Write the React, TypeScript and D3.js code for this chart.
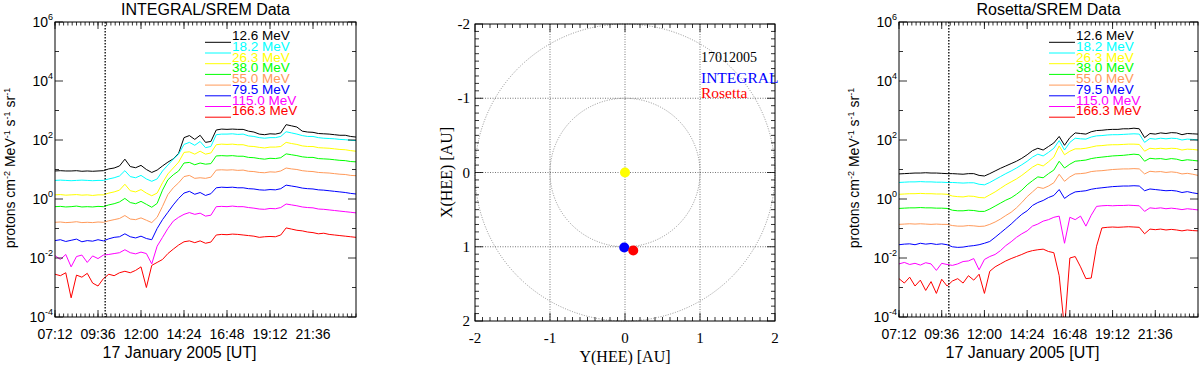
import * as d3 from 'd3';

// Time grid (decimal hours UT, 17 Jan 2005)
const hours = [
    7.2, 7.5, 7.8, 8.1, 8.4, 8.7, 9.0, 9.3, 9.6, 9.9,
    10.2, 10.5, 10.8, 11.1, 11.4, 11.7, 12.0, 12.3, 12.6, 12.9,
    13.2, 13.5, 13.8, 14.1, 14.4, 14.7, 15.0, 15.3, 15.6, 15.9,
    16.2, 16.5, 16.8, 17.1, 17.4, 17.7, 18.0, 18.3, 18.6, 18.9,
    19.2, 19.5, 19.8, 20.1, 20.4, 20.7, 21.0, 21.3, 21.6, 21.9,
    22.2, 22.5, 22.8, 23.1, 23.4, 23.7, 24.0,
];

const channels = ['12.6 MeV', '18.2 MeV', '26.3 MeV', '38.0 MeV', '55.0 MeV', '79.5 MeV', '115.0 MeV', '166.3 MeV'];
const channelColors = ['#000000', '#00ffff', '#ffff00', '#00ff00', '#ff9a5a', '#0000ff', '#ff00ff', '#ff0000'];

const timeTickLabels = ['07:12', '09:36', '12:00', '14:24', '16:48', '19:12', '21:36'];
const timeTickHours = [7.2, 9.6, 12.0, 14.4, 16.8, 19.2, 21.6];
const eventHour = 10.0;

// log10 of proton flux, INTEGRAL/SREM
const integral126 = [
    0.95, 0.96, 0.95, 0.95, 0.96, 0.94, 0.95, 0.94, 0.95, 0.96,
    1.02, 1.05, 1.12, 1.35, 1.10, 1.06, 1.14, 1.00, 0.90, 0.98,
    1.12, 1.25, 1.36, 1.55, 2.08, 2.15, 2.02, 2.16, 1.92, 1.95,
    2.34, 2.37, 2.36, 2.37, 2.36, 2.36, 2.30, 2.27, 2.20, 2.18,
    2.21, 2.20, 2.24, 2.52, 2.48, 2.44, 2.30, 2.27, 2.26, 2.22,
    2.21, 2.20, 2.18, 2.16, 2.16, 2.12, 2.10,
];
const integral182 = [
    0.63, 0.64, 0.63, 0.62, 0.63, 0.64, 0.63, 0.62, 0.63, 0.63,
    0.68, 0.72, 0.78, 0.96, 0.76, 0.72, 0.80, 0.68, 0.60, 0.68,
    0.95, 1.15, 1.35, 1.52, 1.85, 1.92, 1.82, 1.95, 1.74, 1.78,
    2.18, 2.20, 2.20, 2.21, 2.19, 2.20, 2.14, 2.12, 2.08, 2.06,
    2.08, 2.08, 2.12, 2.28, 2.24, 2.20, 2.15, 2.12, 2.12, 2.08,
    2.06, 2.05, 2.04, 2.02, 2.01, 1.99, 1.98,
];
const integral263 = [
    0.14, 0.15, 0.13, 0.14, 0.15, 0.13, 0.14, 0.12, 0.14, 0.14,
    0.20, 0.24, 0.30, 0.50, 0.28, 0.24, 0.32, 0.20, 0.11, 0.20,
    0.55, 0.85, 1.05, 1.25, 1.58, 1.60, 1.52, 1.62, 1.52, 1.56,
    1.84, 1.86, 1.85, 1.86, 1.84, 1.84, 1.79, 1.78, 1.75, 1.73,
    1.76, 1.76, 1.78, 1.92, 1.88, 1.85, 1.80, 1.78, 1.78, 1.74,
    1.73, 1.72, 1.70, 1.68, 1.67, 1.64, 1.62,
];
const integral380 = [
    -0.26, -0.25, -0.27, -0.26, -0.24, -0.27, -0.26, -0.27, -0.25, -0.26,
    -0.20, -0.16, -0.10, 0.02, -0.12, -0.16, -0.08, -0.18, -0.28, -0.15,
    0.30, 0.65, 0.82, 0.95, 1.22, 1.24, 1.16, 1.22, 1.18, 1.20,
    1.46, 1.47, 1.46, 1.47, 1.45, 1.45, 1.41, 1.40, 1.37, 1.35,
    1.38, 1.37, 1.40, 1.53, 1.50, 1.47, 1.43, 1.41, 1.41, 1.37,
    1.36, 1.35, 1.33, 1.31, 1.30, 1.27, 1.26,
];
const integral550 = [
    -0.79, -0.78, -0.80, -0.79, -0.77, -0.80, -0.79, -0.80, -0.78, -0.79,
    -0.74, -0.70, -0.66, -0.56, -0.68, -0.70, -0.64, -0.72, -0.80, -0.62,
    -0.25, 0.15, 0.38, 0.55, 0.76, 0.80, 0.70, 0.72, 0.70, 0.74,
    0.98, 0.99, 0.98, 0.99, 0.97, 0.98, 0.94, 0.93, 0.90, 0.89,
    0.92, 0.91, 0.95, 1.05, 1.02, 1.00, 0.96, 0.94, 0.93, 0.90,
    0.89, 0.88, 0.86, 0.84, 0.83, 0.80, 0.79,
];
const integral795 = [
    -1.41, -1.38, -1.44, -1.40, -1.36, -1.45, -1.41, -1.43, -1.38, -1.42,
    -1.35, -1.30, -1.28, -1.18, -1.28, -1.32, -1.26, -1.34, -1.38, -1.00,
    -0.70, -0.45, -0.20, 0.02, 0.20, 0.26, 0.16, 0.22, 0.12, 0.18,
    0.38, 0.40, 0.39, 0.40, 0.38, 0.38, 0.35, 0.34, 0.31, 0.30,
    0.32, 0.31, 0.35, 0.47, 0.44, 0.41, 0.37, 0.35, 0.34, 0.31,
    0.30, 0.28, 0.26, 0.24, 0.22, 0.19, 0.17,
];
const integral1150 = [
    -1.92, -2.05, -1.88, -2.30, -1.95, -1.90, -2.15, -1.93, -2.02, -1.90,
    -1.88, -1.85, -1.82, -1.72, -1.82, -1.86, -1.80, -1.85, -2.20, -1.60,
    -1.30, -1.00, -0.75, -0.62, -0.52, -0.46, -0.52, -0.48, -0.58, -0.55,
    -0.26, -0.25, -0.26, -0.24, -0.26, -0.26, -0.29, -0.31, -0.34, -0.35,
    -0.32, -0.33, -0.29, -0.17, -0.20, -0.23, -0.27, -0.29, -0.30, -0.34,
    -0.35, -0.37, -0.39, -0.41, -0.43, -0.45, -0.47,
];
const integral1663 = [
    -2.55, -2.60, -2.50, -3.35, -2.58, -2.65, -2.52, -2.85, -2.95, -2.70,
    -2.55, -2.60, -2.50, -2.45, -2.50, -2.42, -2.30, -3.00, -2.25, -2.15,
    -2.05, -1.85, -1.70, -1.56, -1.45, -1.42, -1.48, -1.42, -1.50, -1.46,
    -1.22, -1.20, -1.21, -1.19, -1.20, -1.22, -1.24, -1.26, -1.30, -1.28,
    -1.27, -1.28, -1.22, -0.98, -1.02, -1.06, -1.08, -1.12, -1.14, -1.18,
    -1.16, -1.20, -1.22, -1.24, -1.26, -1.28, -1.30,
];

// log10 of proton flux, Rosetta/SREM
const rosetta126 = [
    0.85, 0.86, 0.87, 0.88, 0.88, 0.89, 0.88, 0.88, 0.87, 0.86,
    0.86, 0.85, 0.84, 0.86, 0.86, 0.80, 0.78, 0.86, 0.95, 1.04,
    1.12, 1.20, 1.28, 1.38, 1.50, 1.64, 1.72, 1.66, 1.78, 1.90,
    2.12, 1.82, 2.08, 2.24, 2.22, 2.20, 2.28, 2.32, 2.33, 2.35,
    2.36, 2.36, 2.38, 2.38, 2.40, 2.38, 2.08, 2.22, 2.20, 2.24,
    2.22, 2.25, 2.24, 2.18, 2.22, 2.21, 2.20,
];
const rosetta182 = [
    0.56, 0.57, 0.58, 0.58, 0.59, 0.58, 0.58, 0.57, 0.57, 0.56,
    0.56, 0.55, 0.54, 0.55, 0.55, 0.50, 0.48, 0.56, 0.66, 0.76,
    0.86, 0.95, 1.05, 1.16, 1.28, 1.42, 1.52, 1.46, 1.58, 1.72,
    1.98, 1.66, 1.92, 2.06, 2.04, 2.03, 2.10, 2.14, 2.15, 2.17,
    2.18, 2.18, 2.19, 2.20, 2.21, 2.20, 1.92, 2.05, 2.03, 2.06,
    2.04, 2.06, 2.05, 2.00, 2.03, 2.02, 2.00,
];
const rosetta263 = [
    0.16, 0.17, 0.18, 0.18, 0.19, 0.18, 0.18, 0.17, 0.17, 0.16,
    0.10, 0.08, 0.07, 0.10, 0.09, 0.05, 0.04, 0.14, 0.24, 0.36,
    0.48, 0.58, 0.68, 0.80, 0.94, 1.08, 1.18, 1.12, 1.26, 1.42,
    1.80, 1.50, 1.62, 1.70, 1.70, 1.72, 1.76, 1.80, 1.81, 1.83,
    1.84, 1.84, 1.85, 1.86, 1.86, 1.85, 1.62, 1.72, 1.70, 1.72,
    1.70, 1.72, 1.71, 1.66, 1.69, 1.68, 1.66,
];
const rosetta380 = [
    -0.32, -0.31, -0.30, -0.30, -0.29, -0.30, -0.30, -0.31, -0.31, -0.32,
    -0.38, -0.40, -0.40, -0.38, -0.39, -0.42, -0.42, -0.34, -0.24, -0.14,
    -0.04, 0.04, 0.16, 0.30, 0.48, 0.62, 0.75, 0.72, 0.86, 0.98,
    1.28, 1.05, 1.18, 1.28, 1.30, 1.32, 1.37, 1.40, 1.42, 1.44,
    1.46, 1.47, 1.48, 1.50, 1.52, 1.50, 1.28, 1.38, 1.36, 1.37,
    1.34, 1.37, 1.35, 1.30, 1.33, 1.31, 1.29,
];
const rosetta550 = [
    -0.86, -0.85, -0.84, -0.85, -0.84, -0.85, -0.86, -0.85, -0.86, -0.86,
    -0.90, -0.92, -0.92, -0.90, -0.91, -0.93, -0.92, -0.86, -0.78, -0.68,
    -0.56, -0.45, -0.30, -0.12, 0.08, 0.24, 0.40, 0.36, 0.44, 0.55,
    0.84, 0.60, 0.75, 0.85, 0.86, 0.88, 0.93, 0.95, 0.96, 0.98,
    1.00, 1.01, 1.02, 1.02, 1.03, 1.02, 0.85, 0.94, 0.92, 0.93,
    0.90, 0.92, 0.90, 0.85, 0.87, 0.84, 0.80,
];
const rosetta795 = [
    -1.55, -1.53, -1.52, -1.55, -1.50, -1.53, -1.51, -1.54, -1.52, -1.55,
    -1.62, -1.64, -1.63, -1.60, -1.58, -1.55, -1.50, -1.44, -1.30, -1.15,
    -1.00, -0.85, -0.68, -0.52, -0.40, -0.22, -0.12, -0.05, 0.05, 0.12,
    0.32, 0.02, 0.15, 0.24, 0.26, 0.28, 0.33, 0.36, 0.38, 0.40,
    0.42, 0.43, 0.44, 0.44, 0.45, 0.44, 0.28, 0.34, 0.32, 0.30,
    0.28, 0.29, 0.27, 0.22, 0.25, 0.21, 0.18,
];
const rosetta1150 = [
    -2.20, -2.15, -2.22, -2.18, -2.24, -2.16, -2.20, -2.42, -2.18, -2.22,
    -2.25, -2.20, -2.12, -2.10, -2.02, -2.40, -2.05, -1.95, -1.88, -1.75,
    -1.58, -1.45, -1.30, -1.18, -1.08, -0.92, -0.85, -0.75, -0.70, -0.62,
    -0.58, -1.50, -0.62, -0.70, -0.58, -0.92, -0.55, -0.25, -0.23, -0.22,
    -0.23, -0.22, -0.22, -0.21, -0.22, -0.23, -0.42, -0.30, -0.32, -0.30,
    -0.33, -0.31, -0.33, -0.36, -0.33, -0.35, -0.37,
];
const rosetta1663 = [
    -2.70, -2.85, -2.65, -2.95, -2.75, -3.10, -2.80, -3.20, -2.72, -2.95,
    -2.78, -2.70, -2.85, -2.60, -2.75, -2.55, -3.20, -2.45, -2.30, -2.20,
    -2.10, -2.02, -1.95, -1.88, -1.80, -1.75, -1.72, -1.70, -1.78, -1.82,
    -2.60, -4.40, -2.00, -1.95, -2.30, -2.70, -2.68, -1.60, -0.98, -0.96,
    -0.95, -0.96, -0.95, -0.94, -0.95, -0.96, -1.18, -1.02, -1.04, -1.02,
    -1.05, -1.03, -1.05, -1.08, -1.05, -1.07, -1.08,
];

const integralSeries = [integral126, integral182, integral263, integral380, integral550, integral795, integral1150, integral1663];
const rosettaSeries = [rosetta126, rosetta182, rosetta263, rosetta380, rosetta550, rosetta795, rosetta1150, rosetta1663];

// Orbit panel (HEE coordinates in AU)
const orbitRadii = [1, 2];
const gridValues = [-1, 0, 1];
const axisValues = [-2, -1, 0, 1, 2];
const bodies = [
    { name: 'Sun', yHee: 0, xHee: 0, color: '#ffff00' },
    { name: 'INTEGRAL', yHee: -0.01, xHee: 1.01, color: '#0000ff' },
    { name: 'Rosetta', yHee: 0.11, xHee: 1.05, color: '#ff0000' },
];
const dateLabel = '17012005';

const SANS = '"Liberation Sans", Arial, Helvetica, sans-serif';
const SERIF = '"Liberation Serif", "Times New Roman", serif';
const TOP = 22;
const BOTTOM = 317;

type FluxPanelProps = {
    id: string;
    left: number;
    right: number;
    title: string;
    series: number[][];
};

function FluxPanel({ id, left, right, title, series }: FluxPanelProps) {
    const x = d3.scaleLinear().domain([7.2, 24]).range([left, right]);
    const y = d3.scaleLog().domain([1e-4, 1e6]).range([BOTTOM, TOP]);
    const line = d3
        .line<number>()
        .x((_, i) => x(hours[i]))
        .y((v) => y(Math.pow(10, v)));

    const minorTimes = d3.range(0, 71).map((i) => 7.2 + i * 0.24);
    const decades = d3.range(-4, 7);
    const center = (left + right) / 2;
    const legendX = left + 150;

    return (
        <g fontFamily={SANS}>
            <defs>
                <clipPath id={id}>
                    <rect x={left} y={TOP} width={right - left} height={BOTTOM - TOP} />
                </clipPath>
            </defs>

            <text x={center} y={15} textAnchor="middle" fontSize={16}>
                {title}
            </text>

            <g clipPath={`url(#${id})`} fill="none" strokeWidth={1}>
                {series.map((values, k) => (
                    <path key={k} d={line(values) ?? ''} stroke={channelColors[k]} />
                ))}
            </g>

            <line
                x1={x(eventHour)}
                x2={x(eventHour)}
                y1={TOP}
                y2={BOTTOM}
                stroke="#000"
                strokeWidth={1.3}
                strokeDasharray="1.5 1.5"
            />

            <rect x={left} y={TOP} width={right - left} height={BOTTOM - TOP} fill="none" stroke="#000" strokeWidth={1} />

            <g stroke="#000" strokeWidth={0.8}>
                {minorTimes.map((t, i) => (
                    <g key={i}>
                        <line x1={x(t)} x2={x(t)} y1={BOTTOM} y2={BOTTOM - 3.5} />
                        <line x1={x(t)} x2={x(t)} y1={TOP} y2={TOP + 3.5} />
                    </g>
                ))}
                {timeTickHours.map((t, i) => (
                    <g key={`M${i}`}>
                        <line x1={x(t)} x2={x(t)} y1={BOTTOM} y2={BOTTOM - 7} />
                        <line x1={x(t)} x2={x(t)} y1={TOP} y2={TOP + 7} />
                    </g>
                ))}
                {decades.map((d) => {
                    const len = d % 2 === 0 ? 8 : 4;
                    const yy = y(Math.pow(10, d));
                    return (
                        <g key={d}>
                            <line x1={left} x2={left + len} y1={yy} y2={yy} />
                            <line x1={right} x2={right - len} y1={yy} y2={yy} />
                        </g>
                    );
                })}
            </g>

            {timeTickHours.map((t, i) => (
                <text key={i} x={x(t)} y={339} textAnchor="middle" fontSize={14}>
                    {timeTickLabels[i]}
                </text>
            ))}

            {decades
                .filter((d) => d % 2 === 0)
                .map((d) => (
                    <text key={d} x={left - 2} y={y(Math.pow(10, d)) + 5} textAnchor="end" fontSize={14}>
                        10
                        <tspan dy={-7} fontSize={9}>
                            {d}
                        </tspan>
                    </text>
                ))}

            <text transform={`translate(${left - 40}, 168) rotate(-90)`} textAnchor="middle" fontSize={14}>
                protons cm
                <tspan dy={-5} fontSize={9}>-2</tspan>
                <tspan dy={5}> MeV</tspan>
                <tspan dy={-5} fontSize={9}>-1</tspan>
                <tspan dy={5}> s</tspan>
                <tspan dy={-5} fontSize={9}>-1</tspan>
                <tspan dy={5}> sr</tspan>
                <tspan dy={-5} fontSize={9}>-1</tspan>
            </text>

            <text x={center - 26} y={358} textAnchor="middle" fontSize={16}>
                17 January 2005 [UT]
            </text>

            {channels.map((label, k) => {
                const ly = 42.3 + k * 10.7;
                return (
                    <g key={label}>
                        <line x1={legendX} x2={legendX + 26} y1={ly} y2={ly} stroke={channelColors[k]} strokeWidth={1} />
                        <text x={legendX + 27} y={ly - 2} fontSize={13.5} fill={channelColors[k]}>
                            {label}
                        </text>
                    </g>
                );
            })}
        </g>
    );
}

function OrbitPanel() {
    const left = 475;
    const right = 775;
    const top = 24;
    const bottom = 321;
    const x = d3.scaleLinear().domain([-2, 2]).range([left, right]);
    const y = d3.scaleLinear().domain([-2, 2]).range([top, bottom]);
    const minor = d3.range(-20, 21).map((i) => i / 10);

    return (
        <g fontFamily={SERIF}>
            <g fill="none" stroke="#555" strokeWidth={0.8} strokeDasharray="1 1.5">
                {gridValues.map((v) => (
                    <g key={v}>
                        <line x1={x(v)} x2={x(v)} y1={top} y2={bottom} />
                        <line x1={left} x2={right} y1={y(v)} y2={y(v)} />
                    </g>
                ))}
                {orbitRadii.map((r) => (
                    <ellipse key={r} cx={x(0)} cy={y(0)} rx={x(r) - x(0)} ry={y(r) - y(0)} stroke="#777" />
                ))}
            </g>

            {bodies.map((b) => (
                <circle key={b.name} cx={x(b.yHee)} cy={y(b.xHee)} r={5} fill={b.color} />
            ))}

            <rect x={left} y={top} width={right - left} height={bottom - top} fill="none" stroke="#000" strokeWidth={1} />

            <g stroke="#000" strokeWidth={0.8}>
                {minor.map((v, i) => {
                    const isMajor = Math.abs(v - Math.round(v)) < 1e-6;
                    const len = isMajor ? 8 : 4;
                    return (
                        <g key={i}>
                            <line x1={x(v)} x2={x(v)} y1={bottom} y2={bottom - len} />
                            <line x1={x(v)} x2={x(v)} y1={top} y2={top + len} />
                            <line x1={left} x2={left + len} y1={y(v)} y2={y(v)} />
                            <line x1={right} x2={right - len} y1={y(v)} y2={y(v)} />
                        </g>
                    );
                })}
            </g>

            {axisValues.map((v) => (
                <g key={v} fontSize={15}>
                    <text x={x(v)} y={343} textAnchor="middle">
                        {v}
                    </text>
                    <text x={470} y={y(v) + 5} textAnchor="end">
                        {v}
                    </text>
                </g>
            ))}

            <text x={(left + right) / 2} y={362} textAnchor="middle" fontSize={16}>
                Y(HEE) [AU]
            </text>
            <text transform={`translate(452, ${(top + bottom) / 2}) rotate(-90)`} textAnchor="middle" fontSize={16}>
                X(HEE) [AU]
            </text>

            <text x={701} y={62} fontSize={14}>
                {dateLabel}
            </text>
            {bodies.slice(1).map((b, i) => (
                <text key={b.name} x={701} y={83 + i * 15} fontSize={15.5} fill={b.color}>
                    {b.name}
                </text>
            ))}
        </g>
    );
}

export default function App() {
    return (
        <div style={{ width: 1200, height: 365 }}>
            <style>{'body{margin:0;background:#fff}'}</style>
            <svg width={1200} height={365} viewBox="0 0 1200 365" style={{ display: 'block', background: '#fff' }}>
                <FluxPanel id="clip-integral" left={55} right={356} title="INTEGRAL/SREM Data" series={integralSeries} />
                <OrbitPanel />
                <FluxPanel id="clip-rosetta" left={899} right={1198} title="Rosetta/SREM Data" series={rosettaSeries} />
            </svg>
        </div>
    );
}
